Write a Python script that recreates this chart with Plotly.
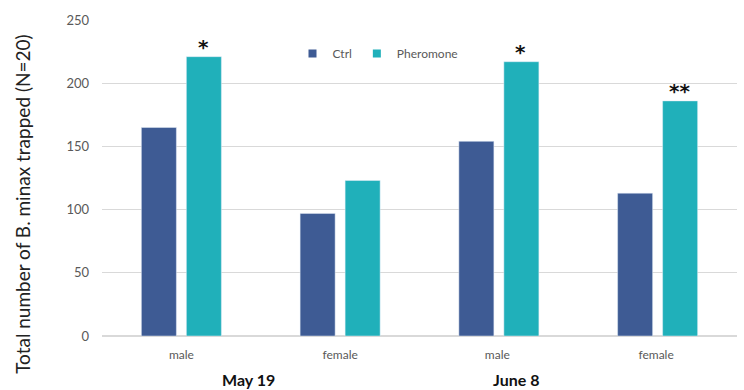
import plotly.graph_objects as go

categories = ["male", "female", "male ", "female "]
ctrl = [165, 97, 154, 113]
pheromone = [221, 123, 217, 186]
stars = ["*", "", "*", "**"]
dates = ["May 19", "June 8"]
date_pos = [0.42, 2.11]

FONT = "Lato, Open Sans, sans-serif"
C_CTRL = "#3E5B94"
C_PHER = "#20B0BA"

fig = go.Figure()
fig.add_bar(x=categories, y=ctrl, name="Ctrl", marker_color=C_CTRL, showlegend=False)
fig.add_bar(x=categories, y=pheromone, name="Pheromone", marker_color=C_PHER, showlegend=False)
# legend entries with small square swatches
for name, col in [("Ctrl", C_CTRL), ("Pheromone", C_PHER)]:
    fig.add_scatter(x=[None], y=[None], mode="markers", name=name,
                    marker=dict(symbol="square", size=8, color=col))

for cat, v, s in zip(categories, pheromone, stars):
    if s:
        fig.add_annotation(x=cat, y=v, text="<b>%s</b>" % s, showarrow=False, xshift=22,
                           yanchor="bottom", yshift=-4,
                           font=dict(family="DejaVu Sans", size=20, color="#111"))

for d, p in zip(dates, date_pos):
    fig.add_annotation(x=p, xref="x", y=0, yref="paper", yanchor="top", yshift=-32,
                       text="<b>%s</b>" % d, showarrow=False,
                       font=dict(family=FONT, size=16, color="#111"))

# y-axis title (centred lower than the plot area, as in the reference)
fig.add_annotation(x=0, xref="paper", xshift=-79, y=0.415, yref="paper",
                   text="Total number of B. minax trapped (N=20)", textangle=-90,
                   showarrow=False, xanchor="center", yanchor="middle",
                   font=dict(family=FONT, size=19, color="#222"))

fig.update_layout(
    width=744, height=390,
    margin=dict(l=102, r=7, t=20, b=54),
    paper_bgcolor="white", plot_bgcolor="white",
    barmode="group", bargap=0.433, bargroupgap=0.222,
    font=dict(family=FONT, size=12, color="#595959"),
    legend=dict(orientation="h", x=0.30, y=0.94, xanchor="left", yanchor="top",
                font=dict(size=12, color="#595959"), bgcolor="rgba(0,0,0,0)",
                itemwidth=30),
    showlegend=True,
)
fig.update_xaxes(showgrid=False, showline=True, linecolor="#d9d9d9", linewidth=1,
                 ticks="", ticklabelstandoff=8, tickfont=dict(size=12, color="#595959"))
fig.update_yaxes(range=[0, 250], dtick=50, showgrid=True, gridcolor="#d9d9d9",
                 zeroline=True, zerolinecolor="#d9d9d9", showline=False,
                 ticklabelstandoff=12, tickfont=dict(size=13, color="#595959"))

fig.write_html("out.html", config={"displayModeBar": False},
               post_script="document.body.style.margin='0';")
